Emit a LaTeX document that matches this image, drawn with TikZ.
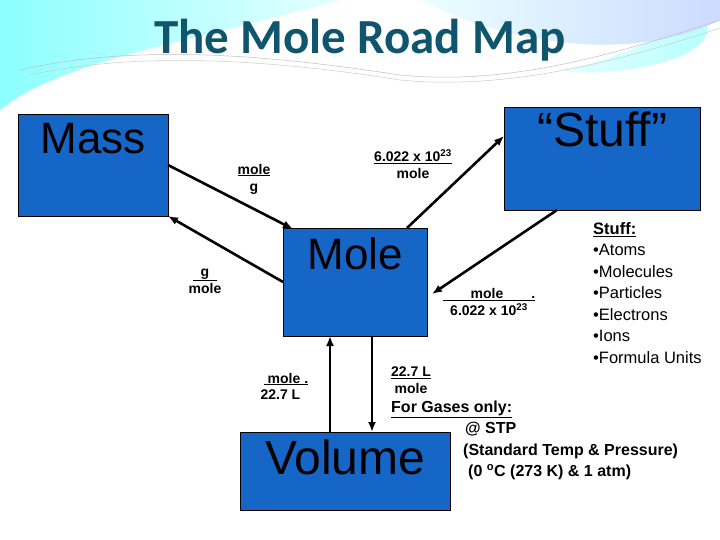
\documentclass[tikz,border=0pt]{standalone}
\usepackage{fontspec}
\setmainfont{Liberation Sans}
\newfontfamily\titlefont{Carlito}
\usetikzlibrary{arrows.meta}
\begin{document}
\begin{tikzpicture}[x=1pt,y=-1pt,
  box/.style={draw=black,fill=boxblue,anchor=north west,inner sep=0,line width=0.6pt},
  big/.style={font=\fontsize{44}{44}\selectfont,anchor=north,inner sep=0},
  lab/.style={font=\fontsize{14}{17}\selectfont\bfseries,align=center,inner sep=0},
  arr/.style={-{Latex[length=10pt,width=8pt]},line width=2.6pt},
  info/.style={font=\fontsize{16.5}{21.5}\selectfont,anchor=north west,align=left,inner sep=0}]
\definecolor{boxblue}{RGB}{22,102,200}
\definecolor{titlec}{RGB}{15,85,110}
\useasboundingbox (0,0) rectangle (720,540);
\fill[white] (0,0) rectangle (720,540);
% background swooshes
\shade[left color=cyan!45!white,right color=cyan!10!white] (0,0) -- (340,0) .. controls (200,40) and (60,60) .. (0,110) -- cycle;
\shade[left color=cyan!10!white,right color=cyan!35!white] (690,0) .. controls (760,60) and (600,80) .. (560,70) .. controls (620,60) and (680,30) .. (720,0) -- cycle;
\shade[left color=cyan!8!white,right color=cyan!30!blue!20!white] (420,0) -- (720,0) -- (720,20) .. controls (640,60) and (520,50) .. (420,0) -- cycle;
\draw[gray!50,line width=0.5pt] (20,70) .. controls (150,40) and (300,60) .. (400,75) .. controls (500,85) and (600,60) .. (720,20);
\draw[gray!40,line width=0.5pt] (30,75) .. controls (150,48) and (300,64) .. (400,80) .. controls (500,90) and (610,65) .. (720,28);
\node[titlec,font=\titlefont\bfseries\fontsize{49}{49}\selectfont] (title) at (360,40) {The Mole Road Map};
% boxes
\node[box,minimum width=150,minimum height=102] (mass) at (18,114) {};
\node[big] (masst) at ([yshift=-9]mass.north) {Mass};
\node[box,minimum width=196,minimum height=103] (stuff) at (504,107) {};
\node[big,font=\fontsize{48}{48}\selectfont] (stufft) at ([yshift=-5]stuff.north) {“Stuff”};
\node[box,minimum width=144,minimum height=108] (mole) at (283,228) {};
\node[big] (molet) at ([yshift=-9]mole.north) {Mole};
\node[box,minimum width=210,minimum height=78] (vol) at (240,432) {};
\node[big,font=\fontsize{48}{48}\selectfont] (volt) at ([yshift=-8]vol.north) {Volume};
% connector points
\coordinate (a1) at (168,165); \coordinate (a2) at (293,229);
\coordinate (b1) at (283,282); \coordinate (b2) at (168,216);
\coordinate (c1) at (407,228); \coordinate (c2) at (504,136);
\coordinate (d1) at (557,210); \coordinate (d2) at (432,294);
\coordinate (e1) at (330,432); \coordinate (e2) at (330,336);
\coordinate (f1) at (372,336); \coordinate (f2) at (372,432);
\draw[arr] (a1) -- (a2);
\draw[arr] (b1) -- (b2);
\draw[arr] (c1) -- (c2);
\draw[arr] (d1) -- (d2);
\draw[arr] (e1) -- (e2);
\draw[arr] (f1) -- (f2);
% labels
\node[lab] (l1) at (254,179) {\underline{mole}\\g};
\node[lab] (l2) at (413,164) {\underline{6.022 x 10\textsuperscript{23}}\\mole};
\node[lab] (l3) at (205,281) {\underline{\ \ g\ \ }\\mole};
\node[lab] (l4) at (489,302) {\underline{\hspace{2em}mole\hspace{2em}.}\\6.022 x 10\textsuperscript{23}};
\node[lab] (l5) at (286,386) {\underline{\ mole\ .}\\[-1pt]\hspace*{-0.8em}22.7 L};
\node[lab] (l6) at (411,380) {\underline{22.7 L}\\mole};
\node[info,font=\fontsize{16}{21.5}\selectfont\bfseries] (gas) at (391,401) {\underline{For Gases only:}};
\node[info,font=\fontsize{16}{21.5}\selectfont\bfseries] (stp) at (463,422) {\hspace*{2pt}@ STP\\(Standard Temp \& Pressure)\\\hspace*{5pt}(0 \textsuperscript{o}C (273 K) \& 1 atm)};
\node[info,font=\fontsize{16.5}{21.5}\selectfont\bfseries] (sh) at (593,222) {\underline{Stuff:}};
\node[info] (list) at (593,244) {•Atoms\\•Molecules\\•Particles\\•Electrons\\•Ions\\•Formula Units};
\end{tikzpicture}
\end{document}
